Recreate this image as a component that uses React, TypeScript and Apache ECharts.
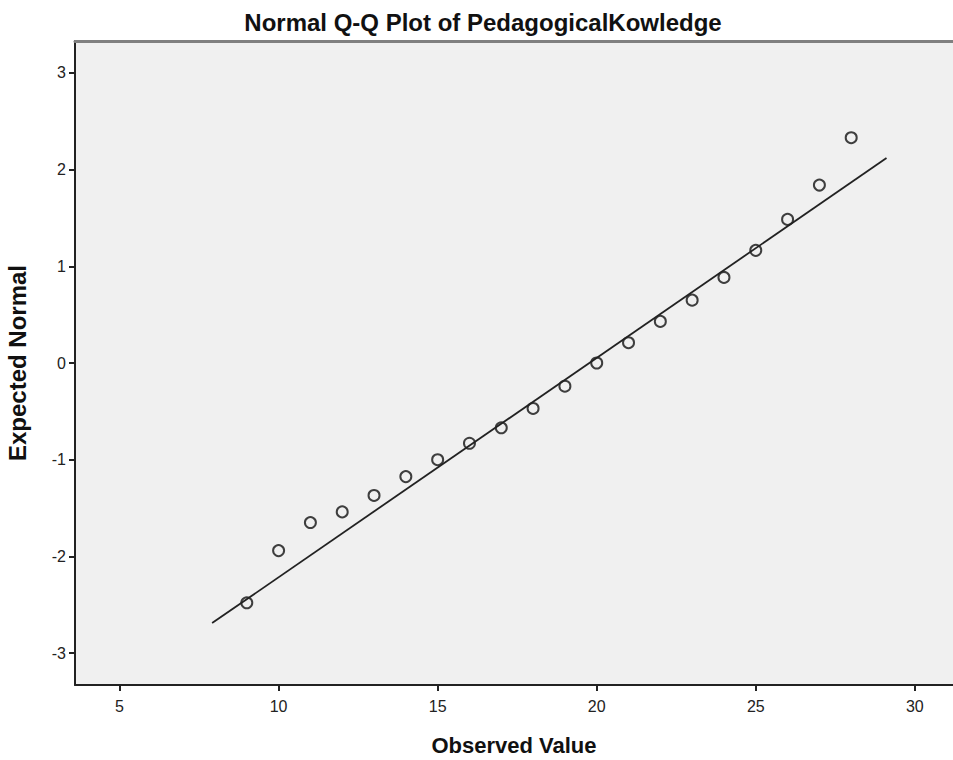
import React, { useEffect, useRef } from "react";
import * as echarts from "echarts";

const observed = [9, 10, 11, 12, 13, 14, 15, 16, 17, 18, 19, 20, 21, 22, 23, 24, 25, 26, 27, 28];
const expected = [-2.48, -1.94, -1.65, -1.54, -1.37, -1.175, -1.0, -0.83, -0.67, -0.47, -0.24, 0.0, 0.21, 0.43, 0.65, 0.885, 1.165, 1.485, 1.84, 2.33];
const lineX = [7.91, 29.11];
const lineY = [-2.69, 2.12];
const xTicks = [5, 10, 15, 20, 25, 30];
const yTicks = [-3, -2, -1, 0, 1, 2, 3];

export default function App() {
  const ref = useRef<HTMLDivElement>(null);
  useEffect(() => {
    if (!ref.current) return;
    const chart = echarts.init(ref.current, undefined, { renderer: "svg" });
    const font = "'Liberation Sans', Arial, sans-serif";
    chart.setOption({
      animation: false,
      title: {
        text: "Normal Q-Q Plot of PedagogicalKowledge",
        left: 478,
        textAlign: "center",
        top: 5,
        textStyle: { fontFamily: font, fontSize: 24, fontWeight: "bold", color: "#111" },
      },
      grid: {
        left: 75,
        right: 0,
        top: 41,
        bottom: 75,
        outerBoundsMode: "none",
        containLabel: false,
        show: true,
        backgroundColor: "#f0f0f0",
        borderWidth: 0,
      },
      xAxis: [
        {
          type: "value",
          min: 3.6,
          max: 31.2,
          name: "Observed Value",
          nameLocation: "middle",
          nameGap: 49,
          nameTextStyle: { fontFamily: font, fontSize: 22, fontWeight: "bold", color: "#111" },
          axisLine: { show: true, onZero: false, lineStyle: { color: "#222", width: 2 } },
          axisTick: { show: true, customValues: xTicks, length: 6, lineStyle: { color: "#222", width: 2 } },
          axisLabel: { customValues: xTicks, fontFamily: font, fontSize: 16, color: "#222", margin: 13 },
          splitLine: { show: false },
        },
        {
          type: "value",
          position: "top",
          min: 3.6,
          max: 31.2,
          axisLine: { show: true, onZero: false, lineStyle: { color: "#808080", width: 3 } },
          axisTick: { show: false },
          axisLabel: { show: false },
          splitLine: { show: false },
        },
      ],
      yAxis: {
        type: "value",
        min: -3.33,
        max: 3.33,
        name: "Expected Normal",
        nameLocation: "middle",
        nameGap: 46,
        nameTextStyle: { fontFamily: font, fontSize: 24, fontWeight: "bold", color: "#111" },
        axisLine: { show: true, onZero: false, lineStyle: { color: "#222", width: 2 } },
        axisTick: { show: true, customValues: yTicks, length: 6, lineStyle: { color: "#222", width: 2 } },
        axisLabel: { customValues: yTicks, fontFamily: font, fontSize: 16, color: "#222", margin: 9 },
        splitLine: { show: false },
      },
      series: [
        {
          type: "line",
          data: lineX.map((x, i) => [x, lineY[i]]),
          showSymbol: false,
          lineStyle: { color: "#222", width: 1.8 },
          silent: true,
        },
        {
          type: "scatter",
          data: observed.map((x, i) => [x, expected[i]]),
          symbol: "circle",
          symbolSize: 11,
          itemStyle: { color: "rgba(0,0,0,0)", borderColor: "#111", borderWidth: 2 },
        },
      ],
    });
    return () => chart.dispose();
  }, []);
  return (
    <div
      ref={ref}
      style={{ position: "fixed", left: 0, top: 0, width: 953, height: 760, background: "#fff" }}
    />
  );
}
